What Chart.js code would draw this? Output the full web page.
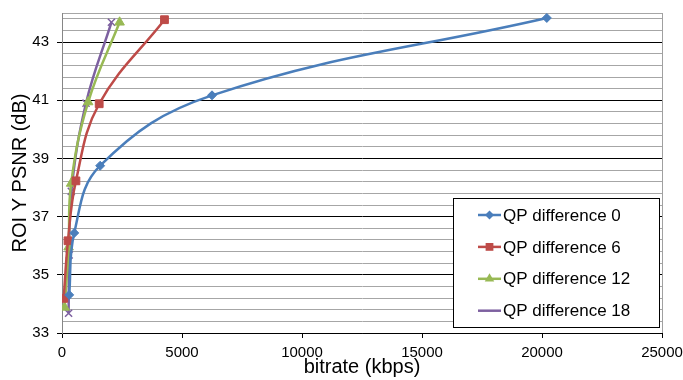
<!DOCTYPE html>
<html>
<head>
<meta charset="utf-8">
<script src="https://cdn.jsdelivr.net/npm/chart.js@4.4.0/dist/chart.umd.min.js"></script>
<style>
  html, body { margin: 0; padding: 0; background: #fff; }
</style>
</head>
<body>
<canvas id="chart" width="683" height="380"></canvas>
<script>
// series
const seriesNames = ['QP difference 0', 'QP difference 6', 'QP difference 12', 'QP difference 18'];
const bitrate0 = [300, 510, 1590, 6250, 20200];
const psnr0 = [34.31, 36.44, 38.75, 41.17, 43.83];
const bitrate6 = [70, 250, 580, 1550, 4270];
const psnr6 = [34.19, 36.17, 38.23, 40.88, 43.77];
const bitrate12 = [110, 275, 380, 1090, 2400];
const psnr12 = [33.88, 35.95, 38.14, 40.94, 43.68];
const bitrate18 = [275, 300, 387, 1000, 2060];
const psnr18 = [33.68, 35.68, 37.87, 40.90, 43.68];

const xTicks = [0, 5000, 10000, 15000, 20000, 25000];
const yLabels = [33, 35, 37, 39, 41, 43];
const yMinorStep = 0.4;

const colors = ['#4A7EBB', '#BE4B48', '#98B954', '#7D60A0'];
const markers = ['rectRot', 'rect', 'triangle', 'crossRot'];
const markerSize = [4.5, 5.5, 5.5, 5];

const xs = [bitrate0, bitrate6, bitrate12, bitrate18];
const ys = [psnr0, psnr6, psnr12, psnr18];

const FONT = "'Liberation Sans', Arial, sans-serif";

const datasets = seriesNames.map((name, i) => ({
    label: name,
    data: xs[i].map((x, j) => ({ x: x, y: ys[i][j] })),
    borderColor: colors[i],
    backgroundColor: colors[i],
    borderWidth: 2.5,
    tension: 0.4,
    pointStyle: markers[i],
    pointRadius: markerSize[i],
    pointBorderWidth: markers[i] === 'crossRot' ? 1.5 : 1,
    pointBorderColor: colors[i],
    pointBackgroundColor: colors[i]
}));

function isMajor(v) {
    return yLabels.some(l => Math.abs(l - v) < 1e-6);
}

// draws the boxed legend and the grey frame of the plot area
const boxLegend = {
    id: 'boxLegend',
    afterDraw(chart) {
        const ctx = chart.ctx;
        const area = chart.chartArea;
        ctx.save();
        ctx.strokeStyle = '#a0a0a0';
        ctx.lineWidth = 1;
        ctx.beginPath();
        ctx.moveTo(Math.round(area.right) + 0.5, area.top);
        ctx.lineTo(Math.round(area.right) + 0.5, area.bottom);
        ctx.stroke();

        const left = 453, top = 198, w = 206, h = 129;
        ctx.fillStyle = '#fff';
        ctx.fillRect(left, top, w, h);
        ctx.strokeStyle = '#000';
        ctx.strokeRect(left + 0.5, top + 0.5, w, h);

        ctx.font = '17px ' + FONT;
        ctx.textBaseline = 'middle';
        ctx.textAlign = 'left';
        chart.data.datasets.forEach((ds, i) => {
            const y = 215 + i * 31.9;
            ctx.strokeStyle = ds.borderColor;
            ctx.lineWidth = 2.5;
            ctx.beginPath();
            ctx.moveTo(478, y);
            ctx.lineTo(501, y);
            ctx.stroke();
            ctx.fillStyle = ds.backgroundColor;
            ctx.lineWidth = ds.pointBorderWidth;
            Chart.helpers.drawPoint(ctx, {
                pointStyle: ds.pointStyle,
                radius: ds.pointRadius,
                rotation: 0
            }, 489.5, y);
            ctx.fillStyle = '#000';
            ctx.fillText(ds.label, 503, y + 1);
        });
        ctx.restore();
    }
};

new Chart(document.getElementById('chart'), {
    type: 'line',
    data: { datasets: datasets },
    plugins: [boxLegend],
    options: {
        responsive: false,
        animation: false,
        layout: { padding: { top: 13, right: 21, left: 0, bottom: 0 } },
        plugins: {
            legend: { display: false },
            tooltip: { enabled: false }
        },
        scales: {
            x: {
                type: 'linear',
                min: 0,
                max: 25000,
                afterBuildTicks: (scale) => {
                    scale.ticks = xTicks.map(v => ({ value: v }));
                },
                afterFit: (scale) => {
                    scale.height = 47;
                    scale.paddingLeft = 0;
                    scale.paddingRight = 0;
                },
                grid: {
                    drawOnChartArea: false,
                    tickLength: 5,
                    tickColor: '#000'
                },
                border: { color: '#000', width: 1 },
                ticks: {
                    color: '#000',
                    padding: 6,
                    maxRotation: 0,
                    font: { family: FONT, size: 15 },
                    callback: (v) => String(v)
                },
                title: {
                    display: true,
                    text: 'bitrate (kbps)',
                    color: '#000',
                    padding: 1,
                    font: { family: FONT, size: 20 }
                }
            },
            y: {
                type: 'linear',
                min: 33,
                max: 44,
                afterBuildTicks: (scale) => {
                    const t = [];
                    for (let v = 33; v < 44 - 1e-6; v += yMinorStep) {
                        t.push({ value: Math.round(v * 10) / 10 });
                    }
                    t.push({ value: 44 });
                    scale.ticks = t;
                },
                afterFit: (scale) => {
                    scale.width = 62;
                    scale.paddingTop = 0;
                    scale.paddingBottom = 0;
                },
                grid: {
                    color: (c) => isMajor(c.tick.value) ? '#000' : '#a6a6a6',
                    tickColor: (c) => isMajor(c.tick.value) ? '#000' : 'rgba(0,0,0,0)',
                    tickLength: 5,
                    lineWidth: 1
                },
                border: { color: '#868686', width: 1 },
                ticks: {
                    color: '#000',
                    padding: 8,
                    autoSkip: false,
                    font: { family: FONT, size: 15 },
                    callback: (v) => isMajor(v) ? String(v) : ''
                },
                title: {
                    display: true,
                    text: 'ROI Y PSNR (dB)',
                    color: '#000',
                    padding: 8,
                    font: { family: FONT, size: 20 }
                }
            }
        }
    }
});
</script>
</body>
</html>
